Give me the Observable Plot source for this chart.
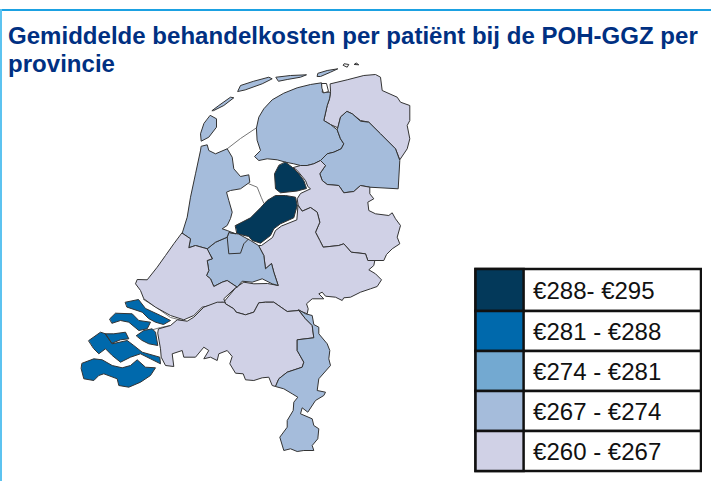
<!DOCTYPE html>
<html lang="nl">
<head>
<meta charset="utf-8">
<script src="https://cdn.jsdelivr.net/npm/d3@7"></script>
<script src="https://cdn.jsdelivr.net/npm/@observablehq/plot@0.6"></script>
<style>
html,body{margin:0;padding:0;background:#fff;}
#page{position:relative;width:711px;height:481px;overflow:hidden;font-family:"Liberation Sans",Arial,sans-serif;}
#topline{position:absolute;left:0;top:9px;width:711px;height:2px;background:#1ba1e2;}
#leftline{position:absolute;left:0;top:9px;width:1.5px;height:472px;background:#5cc3f0;}
#title{position:absolute;left:8px;top:22px;width:702px;margin:0;font-size:24px;letter-spacing:.03px;line-height:28px;font-weight:700;color:#003082;}
#map{position:absolute;left:0;top:0;}
#legend{position:absolute;left:474px;top:267px;}
svg{display:block;background:transparent !important;}
</style>
</head>
<body>
<div id="page">
<div id="map"></div>
<div id="topline"></div><div id="leftline"></div>
<h1 id="title">Gemiddelde behandelkosten per patiënt bij de POH-GGZ per provincie</h1>
<div id="legend"></div>
</div>
<script>
// Chart values
const legendLabels = ["€288- €295","€281 - €288","€274 - €281","€267 - €274","€260 - €267"];
const legendValues = [291.5,284.5,277.5,270.5,263.5];
const classBreaks = [267,274,281,288];
const classColors = ["#d0d1e6","#a5bcdb","#73a9d1","#0069ac","#03395a"];

const provinceNames = ["Groningen","Friesland","Drenthe","Overijssel","Flevoland","Gelderland","Utrecht","Noord-Holland","Zuid-Holland","Zeeland","Noord-Brabant","Limburg"];
const provinceValues = [263.5,270.5,270.5,263.5,291.5,263.5,270.5,270.5,263.5,284.5,263.5,270.5];

// Outlines, in units of the traced map
const groningen = [[[330,83.3],[346.7,79.3],[363.3,75],[375,74],[380,76.7],[381.7,90],[396.7,96.7],[400,101.7],[409.3,105],[409.3,120],[406.7,125],[409.3,138.3],[406.7,148.3],[399.3,159.3],[395,148.3],[380,133.3],[368.3,121.7],[360,120],[351.7,113.3],[346.7,111],[340,116.7],[337.3,127.3],[330,124],[323.3,120],[326.7,105],[329,98.3],[330,91.7]],
 [[354,64],[358.3,64.3],[356,62.7]]];
const friesland = [[[256,127.3],[258.3,116.7],[263.3,108.3],[271.7,99.3],[283.3,92.7],[296.7,87.3],[310,84],[321,82.3],[322.3,86.7],[321.7,91.7],[330,91.7],[329,98.3],[326.7,105],[323.3,120],[330,124],[336.7,129.3],[340,138.3],[343.3,143.3],[340.7,148.3],[333.3,151.7],[326.7,153.3],[320,160],[313.3,163.3],[306.7,165],[300,165],[293.3,163.3],[285,161.7],[276.7,159.3],[266.7,158.3],[258.3,160],[254,156],[260,150],[256.7,140]],
 [[211.7,110],[218.3,105],[230,96.7],[233.3,97.3],[223.3,105],[213.3,110]],
 [[237.3,90.7],[240,85],[253.3,80.7],[268.3,76.7],[271.7,78.3],[261.7,83.3],[245,89.3]],
 [[275.7,76.7],[290,75],[306,74.3],[300,76.7],[286.7,79],[278.3,80.7]],
 [[317.7,72.7],[326.7,70],[337.3,68.3],[330,71.7],[320,76],[317,76]]];
const drenthe = [[[346.7,111],[351.7,113.3],[360,120.7],[368.3,121.7],[380,133.3],[395,148.3],[399.3,160],[397.7,188.3],[369.3,186.7],[360,185],[353.3,191],[343.3,192.3],[338.3,185],[326.7,184],[321.7,180],[319.3,173.3],[325,165],[320,160],[326.7,153.3],[333.3,151.7],[340.7,148.3],[343.3,143.3],[340,138.3],[336.7,129.3],[337.3,127.3],[340,116.7]]];
const overijssel = [[[293,167],[300,165],[306.7,165],[313.3,163.3],[320,160],[325,165],[319.3,173.3],[321.7,180],[326.7,184],[338.3,185],[343.3,192.3],[353.3,191],[360,185],[369.3,186.7],[369.3,193.3],[373.3,198.3],[367.3,201.7],[368.3,210],[375,213.3],[388.3,215],[391.7,212.3],[395,218.3],[400,225],[396.7,236.7],[399.3,243.3],[391.7,248.3],[386,254],[383.3,260],[367.3,260],[365,253.3],[350.7,251.7],[343.3,243.3],[338.3,245],[322.7,246.7],[319.3,240],[315,231.7],[319.3,221.7],[316.7,211.7],[310,207],[301.7,210.7],[297.7,205],[296.7,198.3],[300,193],[310,188.3],[307.3,186],[305,180],[296.7,170]]];
const flevoland = [[[285,161.7],[291.7,166.7],[298.3,173.3],[303.3,180],[305,185],[306,188],[296.7,190.5],[280,192.3],[275,188.3],[274,173.3],[278.3,165]],
 [[235,225],[250,217.3],[260,207.3],[266.7,200],[275,195],[285,195],[295,196.7],[296.7,205],[293.3,217.3],[280,223.3],[273.3,228.3],[270,235],[260,242.7],[251.7,240],[248.3,236],[236.7,233.3]]];
const gelderland = [[[297.7,205],[301.7,210.7],[310,207],[316.7,211.7],[319.3,221.7],[315,231.7],[319.3,240],[322.7,246.7],[338.3,245],[343.3,243.3],[350.7,251.7],[365,253.3],[367.3,260],[374.3,260],[373.3,265],[368.3,269.3],[375,273.3],[381,279.3],[376.7,286],[370,288.3],[360,291.7],[350,296.7],[343.3,297.3],[341.7,300],[335,296.7],[325,295.7],[321.7,291.7],[318.3,293.3],[323.3,298.3],[311.7,298.3],[306,303.3],[307.7,308.3],[306.7,313.3],[298.3,310],[286.7,311],[273.3,301.7],[265,301.7],[258.3,302.3],[253.3,311.7],[245,314.3],[235.7,311.7],[233.3,308.3],[225,303.3],[224,300.7],[235.7,286.7],[243.3,281.7],[253.3,283.3],[267,283],[277.7,285],[273.3,271.7],[271,263],[265,268.3],[263.3,255],[258,245],[261,245],[272,237],[275,230],[281,225.5],[296,219.5]]];
const utrecht = [[[206.7,248.3],[215,241.7],[226.7,236.7],[228.3,232],[238,233.5],[250,240],[258,245],[263.3,255],[265,268.3],[271,263],[273.3,271.7],[277.7,285],[271.7,283.3],[261.7,278.3],[251.7,281.7],[241.7,280.7],[236.7,286.7],[226.7,280],[221.7,281.7],[213.3,286],[210,278.3],[206,275],[208.3,270],[206.7,260],[211.7,258.3]]];
const noordHolland = [[[201,145.7],[206.7,144.3],[208.3,150],[215,153.3],[226.7,148.3],[231.7,156.7],[233.3,168.3],[240,176],[248.3,174.3],[249.3,181.7],[240,188.3],[230,190],[226,191.7],[228.3,200],[231.7,211.7],[230,218],[226.7,225],[221.7,228.3],[226.7,230],[235,233.3],[228.3,232],[226.7,236.7],[215,241.7],[206.7,248.3],[195,245],[188.3,247.3],[190,238.3],[181.7,232.7],[186.7,216.7],[190,196.7],[195,173.3],[200,150]],
 [[210,115],[216,118.3],[216,126.7],[208.3,136.7],[200.7,140.7],[200,133.3],[203.3,123.3]]];
const zuidHolland = [[[181.7,232.7],[190,238.3],[188.3,247.3],[195,245],[206.7,248.3],[211.7,258.3],[206.7,260],[208.3,270],[206,275],[210,278.3],[213.3,286],[221.7,281.7],[226.7,280],[236.7,286.7],[235,287.3],[223.3,298.3],[225,303.3],[221.7,301.7],[210,305],[201.7,306.7],[193.3,315],[183.3,319.3],[170,315],[155,306.7],[143.3,298.3],[140,290],[135,283.3],[136.7,279],[146.7,279.3],[156.7,266.7],[165,255],[173.3,243.3]]];
const zeeland = [[[125,301.7],[138,299],[145,308],[160,315],[170,320],[163,324],[155,321.7],[148,318],[141.7,311.7],[126.7,306.7]],
 [[109.3,318.3],[115,312.7],[131.7,313.3],[138.3,320],[150,321.7],[146.7,328.3],[138.3,330],[128.3,321.7],[120,320],[111.7,322.7]],
 [[136,335],[143.3,330],[151.7,328.3],[155,331.7],[157.3,345],[148.3,343.3],[141.7,340]],
 [[88.3,340],[100,331.7],[105,333.3],[111.7,343.3],[126.7,340],[133.3,345],[141.7,351.7],[159.3,356.7],[160,363.3],[150,358.3],[140,353.3],[130,356.7],[120,361.7],[111.7,355],[105,348.3],[98.3,353.3],[93.3,348.3]],
 [[105,333.3],[113.3,333.3],[125,331.7],[128.3,338.3],[120,339.3],[111.7,342.7]],
 [[81.7,362.7],[93.3,358.3],[101.7,359.3],[111.7,365],[121.7,367.3],[130,365],[136.7,359.3],[145,366.7],[155,367.3],[150,375],[140,381.7],[128.3,386.7],[118.3,385],[116.7,378.3],[103.3,373.3],[98.3,375],[93.3,380],[83.3,378.3],[80.7,368.3]]];
const noordBrabant = [[[158.3,328.3],[170,325],[176.7,319.3],[186.7,320.7],[193.3,316.7],[203.3,306.7],[216.7,301.7],[224,301.7],[225,303.3],[233.3,308.3],[235.7,311.7],[245,314.3],[253.3,311.7],[258.3,302.3],[265,301.7],[273.3,301.7],[286.7,311],[298.3,310],[305,318.3],[311.7,325],[313.3,337.3],[296.7,339.3],[296.7,350],[303.3,361.7],[301.7,366.7],[286.7,371.7],[278.3,378.3],[275,386],[271.7,385],[268.3,376.7],[261.7,377.3],[253.3,380],[245,379.3],[242.7,373.3],[235,372.7],[229.3,363.3],[231.7,356],[226.7,350],[218.3,353.3],[216.7,360],[210,356.7],[203.3,358.3],[208.3,350],[203.3,346.7],[195,356.7],[183.3,356.7],[181.7,350],[171.7,353.3],[173.3,366],[165,365],[160.7,356.7],[160,348.3],[157.3,333]]];
const limburg = [[[298.3,309.3],[305,313.3],[311.7,315],[313.3,324],[318.3,326.7],[318.3,333.3],[326.7,343.3],[329.3,350],[328.3,358.3],[330,365],[318.3,378.3],[316.7,390],[325,391.7],[323.3,395],[315,400],[307.3,411.7],[301.7,407.3],[300,413.3],[311.7,418.3],[313.3,425],[318.3,428.3],[317.3,438.3],[311.7,445],[313.3,450],[303.3,450],[296.7,451],[290,448.3],[283.3,450],[279.3,436.7],[286.7,426.7],[286.7,420],[292.7,410],[293.3,401.7],[297.3,396.7],[291.7,393.3],[283.3,388.3],[275,386],[278.3,378.3],[286.7,371.7],[301.7,366.7],[303.3,361.7],[296.7,350],[296.7,339.3],[313.3,337.3],[311.7,325],[305,318.3]]];
const provinceShapes = [groningen,friesland,drenthe,overijssel,flevoland,gelderland,utrecht,noordHolland,zuidHolland,zeeland,noordBrabant,limburg];

// Thin lines on the water and inner boundaries
const afsluitdijk = [[226.7,148.3],[240,138],[256,127.3]];
const markermeerShore = [[248.3,183.3],[256.7,186.7],[260.7,196.7],[263.3,202.7]];
const hollandsDiep = [[143,299],[156,307],[170,317],[186,321]];
const tholenEdge = [[153,329],[160,327],[170,325]];
const gooiEdge = [[226.7,236.7],[228.3,253.3],[240,252.7],[243.3,243.3],[248,238.5]];
const waterLines = [afsluitdijk,markermeerShore,hollandsDiep,tholenEdge];
const rottumeroog = [[344,63.3],[348.3,64],[346.7,66.7],[343,65]];
const lauwersmeer = [[321.5,83],[326,83],[328,91],[323,92.5],[321.5,88]];
const whiteShapes = [rottumeroog,lauwersmeer];

const colorScale = {type:"threshold",domain:classBreaks,range:classColors};
const provinces = {type:"FeatureCollection",features:provinceNames.map((name,i)=>({
  type:"Feature",properties:{name,value:provinceValues[i]},
  geometry:{type:"MultiPolygon",coordinates:provinceShapes[i].map(r=>[[...r,r[0]]])}
}))};
const whites = {type:"MultiPolygon",coordinates:whiteShapes.map(r=>[[...r,r[0]]])};
const lines = {type:"MultiLineString",coordinates:waterLines};
const inner = {type:"LineString",coordinates:gooiEdge};

document.getElementById("map").append(Plot.plot({
  width:711,height:481,margin:0,
  projection:{type:()=>d3.geoIdentity()},
  color:colorScale,
  marks:[
    Plot.geo(lines,{stroke:"#777",strokeWidth:1,fill:"none"}),
    Plot.geo(provinces,{fill:d=>d.properties.value,stroke:"#333",strokeWidth:1,strokeLinejoin:"round"}),
    Plot.geo(inner,{stroke:"#333",strokeWidth:1,fill:"none"}),
    Plot.geo(whites,{fill:"#fff",stroke:"#333",strokeWidth:1})
  ]
}));

const rows = d3.range(legendLabels.length);
document.getElementById("legend").append(Plot.plot({
  width:228,height:206,margin:0,
  x:{type:"linear",domain:[0,1],range:[1.5,227],axis:null},
  y:{type:"linear",domain:[0,1,2,3,4,5],range:[2,44,84,124,164,204],axis:null},
  color:colorScale,
  marks:[
    Plot.rect(rows,{x1:0,x2:1,y1:i=>i,y2:i=>i+1,fill:"#fff",stroke:"#111",strokeWidth:2.5}),
    Plot.rect(rows,{x1:0,x2:0.2133,y1:i=>i,y2:i=>i+1,fill:i=>legendValues[i],stroke:"#111",strokeWidth:2.5}),
    Plot.text(rows,{x:0.2533,y:i=>i+0.5,text:i=>legendLabels[i],textAnchor:"start",fontSize:24,fill:"#111",fontFamily:"Liberation Sans",dy:1})
  ]
}));
</script>
</body>
</html>
